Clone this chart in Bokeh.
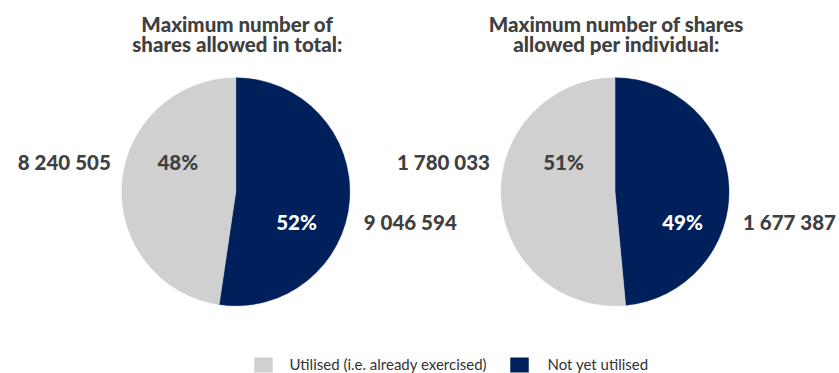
import math
from bokeh.plotting import figure
from bokeh.models import Range1d
from bokeh.core.properties import value
from bokeh.embed import file_html
from bokeh.resources import INLINE

# ---- data ----
title_line1 = ["Maximum number of", "Maximum number of shares"]
title_line2 = ["shares allowed in total:", "allowed per individual:"]
categories = ["Utilised (i.e. already exercised)", "Not yet utilised"]
utilised = [8240505, 1780033]
not_utilised = [9046594, 1677387]
colors = ["#D0D0D0", "#00205B"]

# ---- layout (pixel coordinates, y measured upward from bottom) ----
W_FIG, H_FIG = 839, 373
pie_cx = [235.3, 614.5]
pie_cy_screen = 191.3
radius = 114.0
pct_dx_grey = [-58.0, -51.5]
pct_dx_navy = [60.7, 67.5]
font = value("Lato Black, Lato")
txt_col = "#404040"
big = "20.5px"

def Y(s):
    return H_FIG - s

p = figure(width=W_FIG, height=H_FIG, output_backend="svg", toolbar_location=None,
           x_range=Range1d(0, W_FIG), y_range=Range1d(0, H_FIG),
           min_border=0, outline_line_color=None)
p.axis.visible = False
p.grid.visible = False
p.background_fill_color = "white"
p.border_fill_color = "white"

for i in range(2):
    total = utilised[i] + not_utilised[i]
    f_navy = not_utilised[i] / total
    f_grey = utilised[i] / total
    cx, cy = pie_cx[i], Y(pie_cy_screen)
    a0 = math.pi / 2
    a1 = a0 - 2 * math.pi * f_navy
    a2 = a0 - 2 * math.pi
    p.wedge(x=[cx], y=[cy], radius=radius, start_angle=[a0], end_angle=[a1],
            direction="clock", fill_color=colors[1], line_color=colors[1], line_width=0.5)
    p.wedge(x=[cx], y=[cy], radius=radius, start_angle=[a1], end_angle=[a2],
            direction="clock", fill_color=colors[0], line_color=colors[0], line_width=0.5)

    # percent labels
    p.text(x=[cx + pct_dx_grey[i]], y=[Y(161.7)], text=[f"{round(f_grey*100)}%"],
           text_align="center", text_baseline="middle", text_font=font,
           text_font_style="bold", text_font_size=big, text_color=txt_col)
    p.text(x=[cx + pct_dx_navy[i]], y=[Y(221.7)], text=[f"{round(f_navy*100)}%"],
           text_align="center", text_baseline="middle", text_font=font,
           text_font_style="bold", text_font_size=big, text_color="white")
    # value labels
    p.text(x=[cx - radius - 11], y=[Y(161.7)], text=[f"{utilised[i]:,}".replace(",", " ")],
           text_align="right", text_baseline="middle", text_font=font,
           text_font_style="bold", text_font_size=big, text_color=txt_col)
    p.text(x=[cx + radius + 14], y=[Y(221.7)], text=[f"{not_utilised[i]:,}".replace(",", " ")],
           text_align="left", text_baseline="middle", text_font=font,
           text_font_style="bold", text_font_size=big, text_color=txt_col)
    # titles
    p.text(x=[cx + 1.5], y=[Y(23.5)], text=[title_line1[i]], text_align="center",
           text_baseline="middle", text_font=font, text_font_style="bold",
           text_font_size=big, text_color=txt_col)
    p.text(x=[cx + 1.5], y=[Y(43.5)], text=[title_line2[i]], text_align="center",
           text_baseline="middle", text_font=font, text_font_style="bold",
           text_font_size=big, text_color=txt_col)

# legend
leg_sq_x = [254, 510]
leg_txt_x = [289, 547]
for j in range(2):
    p.rect(x=[leg_sq_x[j] + 9], y=[Y(364.5)], width=18.5, height=15,
           fill_color=colors[j], line_color=None)
    p.text(x=[leg_txt_x[j]], y=[Y(363.5)], text=[categories[j]], text_align="left",
           text_baseline="middle", text_font=value("Lato"), text_font_size="15px",
           text_color="#333333")

open("out.html", "w").write(file_html(p, INLINE))
